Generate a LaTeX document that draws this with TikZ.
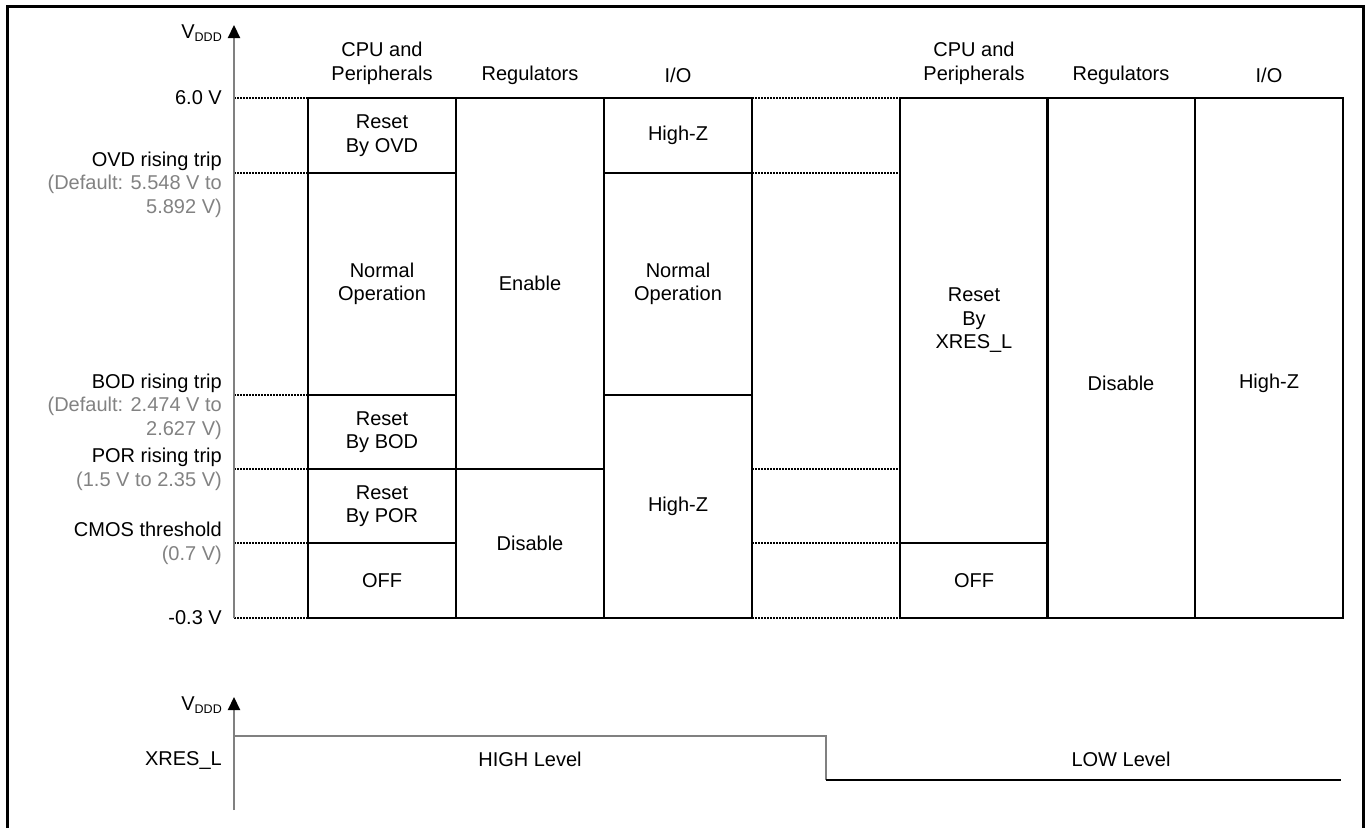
\documentclass[tikz,border=0pt]{standalone}
\usepackage{fontspec}
\setmainfont{Liberation Sans}
\usetikzlibrary{arrows.meta}
\definecolor{txtgray}{RGB}{130,130,130}
\definecolor{axisgray}{RGB}{128,128,128}
\begin{document}
\begin{tikzpicture}[x=1pt,y=-1pt,
  every node/.style={font=\fontsize{20}{23.5}\selectfont, inner sep=0pt},
  cell/.style={draw=black, line width=1.8pt, minimum width=148pt, align=center},
  lvl/.style={line width=1.3pt, dash pattern=on 2pt off 1pt},
  axis/.style={draw=axisgray, line width=2.2pt, -{Triangle[width=12pt,length=13pt,color=black]}},
  lab/.style={anchor=east, align=right},
  hdr/.style={align=center}]
\useasboundingbox (0,0) rectangle (1369,828);
% frame
\draw[line width=3pt] (7,828) -- (7,6) -- (1363,6) -- (1363,828);

% coordinates
\coordinate (ax0) at (234,618);
\coordinate (ax1) at (234,25);
\coordinate (bx0) at (234,810);
\coordinate (bx1) at (234,697);

% level dotted lines (left)
\foreach \y in {98,173,395,469,543,618}{
  \draw[lvl] (234,\y) -- (308,\y);
}
% level dotted lines (gap)
\foreach \y in {98,173,469,543,618}{
  \draw[lvl] (752,\y) -- (900,\y);
}

% headers
\node[hdr] (h1) at (382,63.5) {CPU and\\Peripherals};
\node[hdr] (h2) at (530,75) {Regulators};
\node[hdr] (h3) at (678,75) {I/O};
\node[hdr] (h4) at (974,63.5) {CPU and\\Peripherals};
\node[hdr] (h5) at (1121,75) {Regulators};
\node[hdr] (h6) at (1269,75) {I/O};

% left group: CPU
\node[cell, minimum height=75pt] (c11) at (382,135.5) {Reset\\By OVD};
\node[cell, minimum height=222pt] (c12) at (382,284) {Normal\\Operation};
\node[cell, minimum height=74pt] (c13) at (382,432) {Reset\\By BOD};
\node[cell, minimum height=74pt] (c14) at (382,506) {Reset\\By POR};
\node[cell, minimum height=75pt] (c15) at (382,580.5) {OFF};
% regulators
\node[cell, minimum height=371pt] (c21) at (530,283.5) {Enable};
\node[cell, minimum height=149pt] (c22) at (530,543.5) {Disable};
% I/O
\node[cell, minimum height=75pt] (c31) at (678,135.5) {High-Z};
\node[cell, minimum height=222pt] (c32) at (678,284) {Normal\\Operation};
\node[cell, minimum height=223pt] (c33) at (678,506.5) {High-Z};

% right group
\node[cell, minimum height=445pt] (c41) at (974,320.5) {Reset\\By\\XRES\_L};
\node[cell, minimum height=75pt] (c42) at (974,580.5) {OFF};
\node[cell, minimum height=520pt] (c51) at (1121,358) {};
\node (t51) at (1121,383) {Disable};
\node[cell, minimum height=520pt] (c61) at (1269,358) {};
\node (t61) at (1269,383) {High-Z};

% axis
\draw[axis] (ax0) -- (ax1);
\node[anchor=base east] (vddd1) at (222,38) {V{\fontsize{12.5}{12.5}\selectfont\raisebox{-3pt}{DDD}}};

% left labels
\node[lab] (l1) at (222,98) {6.0 V};
\node[lab] (l2) at (222,184.5) {OVD rising trip\\\textcolor{txtgray}{(Default: 5.548 V to}\\\textcolor{txtgray}{5.892 V)}};
\node[lab] (l3) at (222,406.5) {BOD rising trip\\\textcolor{txtgray}{(Default: 2.474 V to}\\\textcolor{txtgray}{2.627 V)}};
\node[lab] (l4) at (222,469.5) {POR rising trip\\\textcolor{txtgray}{(1.5 V to 2.35 V)}};
\node[lab] (l5) at (222,543.5) {CMOS threshold\\\textcolor{txtgray}{(0.7 V)}};
\node[lab] (l6) at (222,618) {-0.3 V};

% bottom signal
\draw[axis] (bx0) -- (bx1);
\node[anchor=base east] (vddd2) at (222,710) {V{\fontsize{12.5}{12.5}\selectfont\raisebox{-3pt}{DDD}}};
\node[lab] (xres) at (222,760) {XRES\_L};
\coordinate (s0) at (234,736);
\coordinate (s1) at (826,736);
\coordinate (s2) at (826,780);
\coordinate (s3) at (1341,780);
\draw[axisgray, line width=1.8pt] (s0) -- (s1) -- (s2);
\draw[black, line width=1.5pt] (s2) -- (s3);
\node (hi) at (530,759) {HIGH Level};
\node (lo) at (1121,759) {LOW Level};
\end{tikzpicture}
\end{document}
